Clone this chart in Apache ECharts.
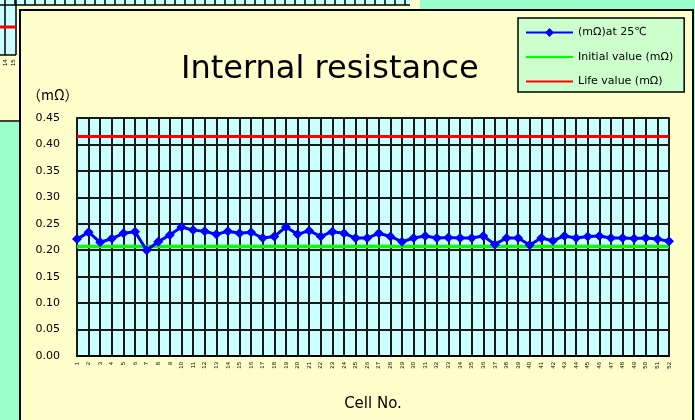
<!DOCTYPE html>
<html>
<head>
<meta charset="utf-8">
<script src="https://cdn.jsdelivr.net/npm/echarts@6/dist/echarts.min.js"></script>
<style>
html, body { margin: 0; padding: 0; background: #99ffcc; }
#chart { width: 695px; height: 420px; }
</style>
</head>
<body>
<div id="chart"></div>
<script>
// cell numbers on the category axis
const cells = [1, 2, 3, 4, 5, 6, 7, 8, 9, 10, 11, 12, 13, 14, 15, 16, 17, 18, 19, 20,
	21, 22, 23, 24, 25, 26, 27, 28, 29, 30, 31, 32, 33, 34, 35, 36, 37, 38, 39, 40,
	41, 42, 43, 44, 45, 46, 47, 48, 49, 50, 51, 52];

// measured resistance (mΩ) at 25℃, one per cell
const resistance = [0.221, 0.234, 0.215, 0.222, 0.232, 0.235, 0.200, 0.216, 0.229, 0.244,
	0.238, 0.236, 0.230, 0.236, 0.232, 0.234, 0.223, 0.226, 0.244, 0.230,
	0.237, 0.226, 0.235, 0.232, 0.223, 0.223, 0.232, 0.226, 0.216, 0.223,
	0.227, 0.223, 0.224, 0.223, 0.223, 0.227, 0.211, 0.223, 0.223, 0.210,
	0.223, 0.218, 0.227, 0.223, 0.226, 0.227, 0.223, 0.223, 0.222, 0.223,
	0.221, 0.217];

const initialValue = 0.207; // 初期値
const lifeValue = 0.415;    // 寿命値

const yTicks = { min: 0, max: 0.45, step: 0.05 };

const names = ['(mΩ)at 25℃', 'Initial value (mΩ)', 'Life value (mΩ)'];

const chart = echarts.init(document.getElementById('chart'));

// background pieces of the neighbouring sheet objects
const deco = [
	{ type: 'rect', z: -100, shape: { x: 0, y: 0, width: 695, height: 420 }, style: { fill: '#99ffcc' } },
	{ type: 'rect', z: -99, shape: { x: 0, y: 0, width: 420, height: 10 }, style: { fill: '#ffffcc' } },
	{ type: 'rect', z: -98, shape: { x: 0, y: 0, width: 410, height: 5 }, style: { fill: '#ccffff' } },
	{ type: 'line', z: -97, shape: { x1: 0, y1: 5, x2: 410, y2: 5 }, style: { stroke: '#000', lineWidth: 1.5 } },
	{ type: 'rect', z: -99, shape: { x: 0, y: 0, width: 20, height: 122 }, style: { fill: '#ffffcc' } },
	{ type: 'rect', z: -98, shape: { x: 0, y: 0, width: 16, height: 55 }, style: { fill: '#ccffff' } },
	{ type: 'line', z: -97, shape: { x1: 5, y1: 0, x2: 5, y2: 55 }, style: { stroke: '#000', lineWidth: 1.5 } },
	{ type: 'line', z: -97, shape: { x1: 16, y1: 0, x2: 16, y2: 55 }, style: { stroke: '#000', lineWidth: 1.5 } },
	{ type: 'line', z: -97, shape: { x1: 0, y1: 55, x2: 16, y2: 55 }, style: { stroke: '#000', lineWidth: 1.5 } },
	{ type: 'line', z: -96, shape: { x1: 0, y1: 27, x2: 16, y2: 27 }, style: { stroke: '#ff0000', lineWidth: 3 } },
	{ type: 'text', z: -96, x: 2, y: 66, rotation: Math.PI / 2, style: { text: '14', fontSize: 6, fill: '#000' } },
	{ type: 'text', z: -96, x: 10, y: 66, rotation: Math.PI / 2, style: { text: '15', fontSize: 6, fill: '#000' } },
	{ type: 'line', z: -97, shape: { x1: 0, y1: 121, x2: 20, y2: 121 }, style: { stroke: '#000', lineWidth: 1.5 } },
	{ type: 'rect', z: -95, shape: { x: 20, y: 10, width: 673, height: 420 }, style: { fill: '#ffffcc', stroke: '#000', lineWidth: 2 } },
	{ type: 'text', z: 10, left: 27, top: 88, style: { text: '（mΩ）', fontSize: 14, fill: '#000', fontFamily: 'Noto Sans CJK JP' } }
];
for (let x = 15; x < 410; x += 10) {
	deco.push({ type: 'line', z: -97, shape: { x1: x, y1: 0, x2: x, y2: 5 }, style: { stroke: '#000', lineWidth: 1.5 } });
}

const option = {
	animation: false,
	backgroundColor: '#99ffcc',
	graphic: deco,
	title: {
		text: 'Internal resistance',
		left: 176,
		top: 49,
		textStyle: { fontSize: 32, fontWeight: 'normal', color: '#000', fontFamily: 'DejaVu Sans' }
	},
	legend: {
		orient: 'vertical',
		left: 518,
		top: 18,
		padding: [9, 11, 5, 7],
		itemGap: 13.5,
		itemWidth: 47,
		itemHeight: 11,
		backgroundColor: '#ccffcc',
		borderColor: '#000',
		borderWidth: 1.5,
		textStyle: { fontSize: 11, color: '#000', fontFamily: 'DejaVu Sans' },
		data: [
			{ name: names[0] },
			{ name: names[1], itemStyle: { opacity: 0 } },
			{ name: names[2], itemStyle: { opacity: 0 } }
		]
	},
	grid: {
		left: 77,
		top: 118,
		width: 592,
		height: 238,
		show: true,
		backgroundColor: '#ccffff',
		borderColor: '#444',
		borderWidth: 2
	},
	xAxis: {
		type: 'category',
		data: cells,
		boundaryGap: false,
		name: 'Cell No.',
		nameLocation: 'middle',
		nameGap: 41,
		nameTextStyle: { fontSize: 15, color: '#000', fontFamily: 'DejaVu Sans' },
		axisLine: { lineStyle: { color: '#000', width: 2 } },
		axisTick: { show: false },
		axisLabel: { interval: 0, rotate: 90, fontSize: 6, color: '#000', margin: 6 },
		splitLine: { show: true, interval: 0, lineStyle: { color: '#1a1a1a', width: 2 } }
	},
	yAxis: {
		type: 'value',
		min: yTicks.min,
		max: yTicks.max,
		interval: yTicks.step,
		axisLine: { show: false },
		axisTick: { show: false },
		axisLabel: {
			fontSize: 11,
			color: '#000',
			margin: 17,
			fontFamily: 'DejaVu Sans',
			formatter: v => v.toFixed(2)
		},
		splitLine: { lineStyle: { color: '#1a1a1a', width: 2 } }
	},
	series: [
		{
			name: names[0],
			type: 'line',
			data: resistance,
			z: 5,
			symbol: 'diamond',
			symbolSize: 10,
			color: '#0000ff',
			lineStyle: { color: '#0000ff', width: 3 },
			itemStyle: { color: '#0000ff' }
		},
		{
			name: names[1],
			type: 'line',
			data: cells.map(() => initialValue),
			z: 3,
			symbol: 'none',
			color: '#00ff00',
			lineStyle: { color: '#00ff00', width: 3.5 }
		},
		{
			name: names[2],
			type: 'line',
			data: cells.map(() => lifeValue),
			z: 3,
			symbol: 'none',
			color: '#ff0000',
			lineStyle: { color: '#ff0000', width: 3 }
		}
	]
};

chart.setOption(option);
</script>
</body>
</html>
